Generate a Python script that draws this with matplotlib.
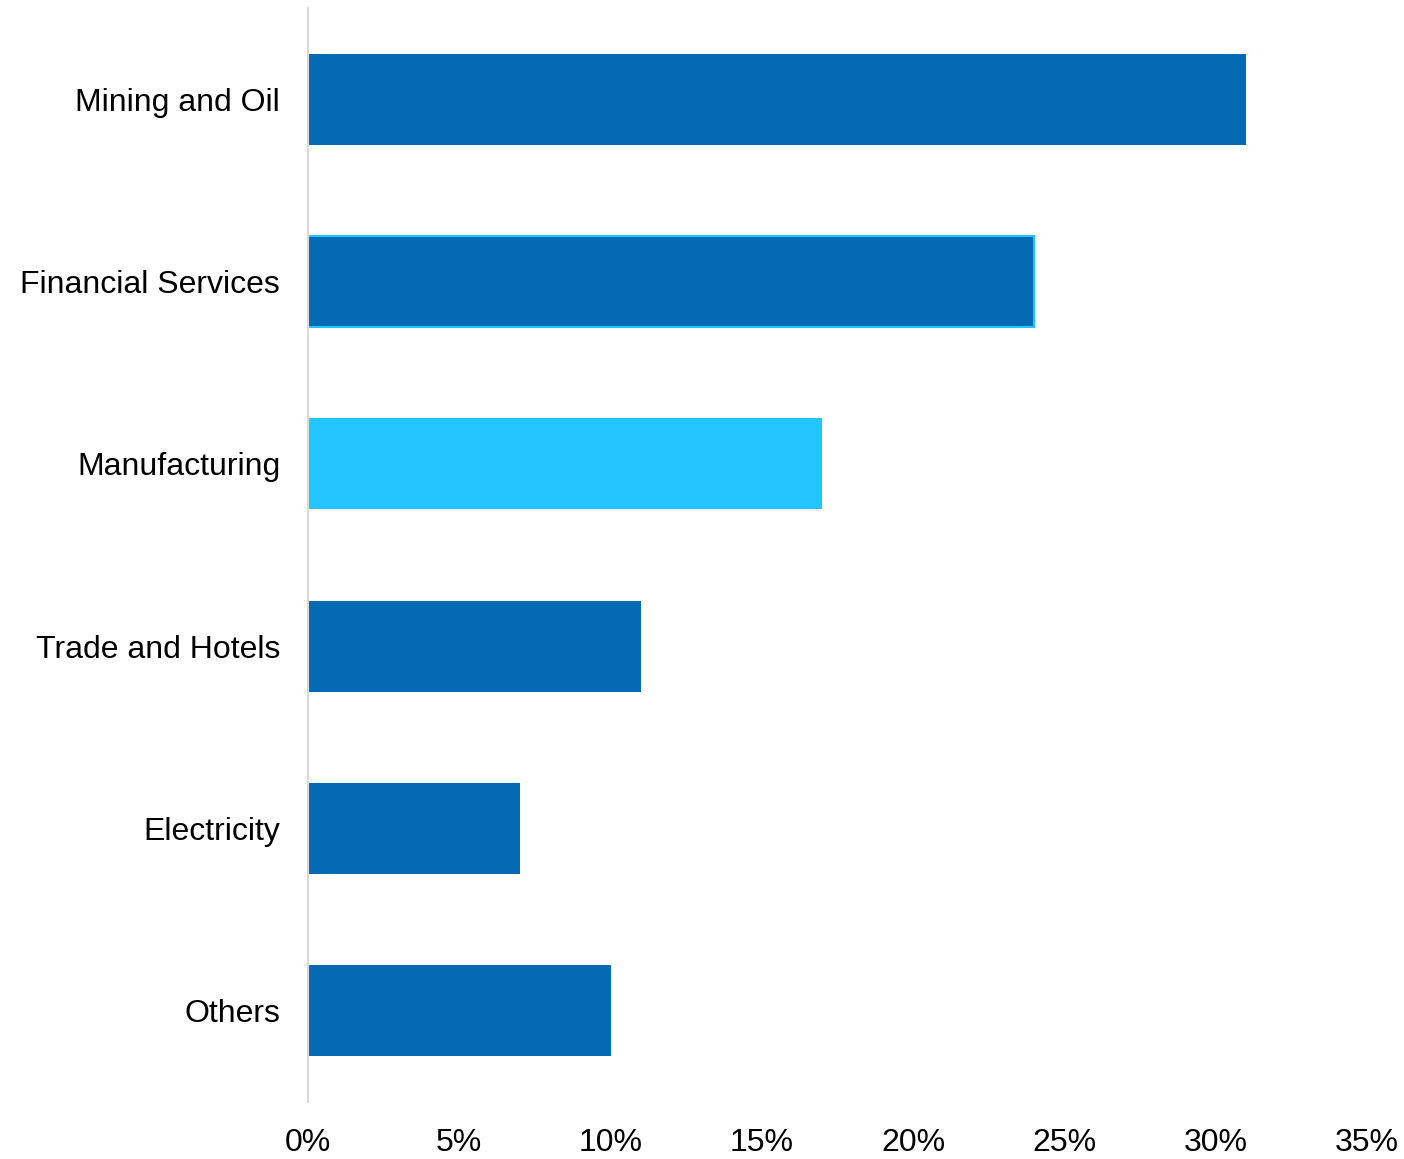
import matplotlib.pyplot as plt
from matplotlib.ticker import FuncFormatter

plt.rcParams["font.family"] = ["Liberation Sans", "DejaVu Sans"]

sectors = ["Mining and Oil", "Financial Services", "Manufacturing",
           "Trade and Hotels", "Electricity", "Others"]
shares = [31, 24, 17, 11, 7, 10]
highlight = "Manufacturing"
outlined = "Financial Services"

dark = "#036AB3"
light = "#22C5FF"

fig = plt.figure(figsize=(14.04, 11.59), dpi=100)
ax = fig.add_axes([308 / 1404, 57 / 1159, (1367 - 308) / 1404, (1102 - 8) / 1159])

ypos = list(range(len(sectors)))
colors = [light if s == highlight else dark for s in sectors]
bars = ax.barh(ypos, shares, height=0.5, color=colors)
for b, s in zip(bars, sectors):
    if s == outlined:
        b.set_edgecolor(light)
        b.set_linewidth(1.5)

ax.set_ylim(len(sectors) - 0.5, -0.5)
ax.set_xlim(0, 35)
ax.set_xticks(range(0, 36, 5))
ax.xaxis.set_major_formatter(FuncFormatter(lambda v, _: f"{v:.0f}%"))
ax.set_yticks(ypos)
ax.set_yticklabels(sectors)

for side in ["top", "right", "bottom"]:
    ax.spines[side].set_visible(False)
ax.spines["left"].set_color("#D9D9D9")
ax.spines["left"].set_linewidth(1.5)

ax.tick_params(axis="both", length=0, labelsize=23, colors="black")
ax.tick_params(axis="x", pad=19)
ax.tick_params(axis="y", pad=20)

fig.savefig("out.png", dpi=100)
